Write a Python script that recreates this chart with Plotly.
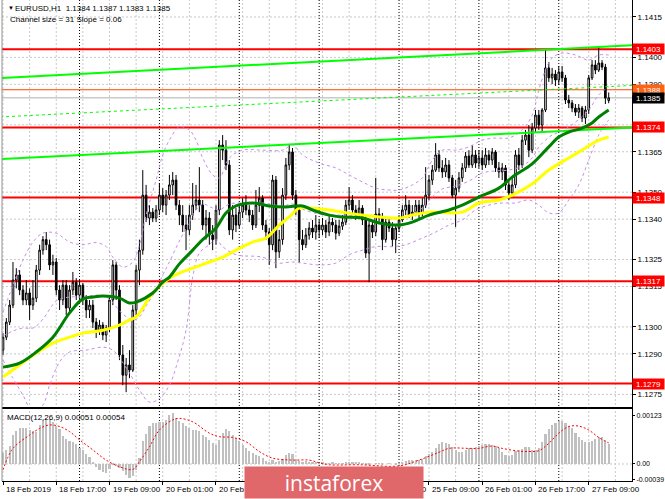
import plotly.graph_objects as go

# EURUSD H1, 18 Feb 01:00 .. 27 Feb 15:00 (bar index = hour counted from the first bar)
opens = [
    1.12914, 1.12962, 1.13018, 1.13081, 1.13174, 1.13193, 1.13137, 1.13100, 1.13126, 1.13081,
    1.13107, 1.13211, 1.13285, 1.13324, 1.13305, 1.13230, 1.13241, 1.13137, 1.13100, 1.13155,
    1.13070, 1.13137, 1.13166, 1.13118, 1.13155, 1.13100, 1.13063, 1.13081, 1.13018, 1.12988,
    1.13007, 1.12970, 1.12996, 1.13100, 1.13230, 1.13137, 1.12896, 1.12821, 1.12859, 1.12840,
    1.13063, 1.13211, 1.13285, 1.13489, 1.13404, 1.13426, 1.13404, 1.13434, 1.13489, 1.13452,
    1.13489, 1.13527, 1.13545, 1.13452, 1.13415, 1.13378, 1.13360, 1.13415, 1.13452, 1.13471,
    1.13452, 1.13378, 1.13404, 1.13341, 1.13324, 1.13434, 1.13675, 1.13656, 1.13601, 1.13360,
    1.13415, 1.13378, 1.13426, 1.13452, 1.13434, 1.13415, 1.13378, 1.13452, 1.13478, 1.13378,
    1.13352, 1.13305, 1.13545, 1.13279, 1.13324, 1.13489, 1.13601, 1.13649, 1.13489, 1.13434,
    1.13324, 1.13305, 1.13341, 1.13367, 1.13352, 1.13378, 1.13360, 1.13378, 1.13352, 1.13389,
    1.13378, 1.13348, 1.13374, 1.13389, 1.13452, 1.13471, 1.13434, 1.13415, 1.13441, 1.13397,
    1.13274, 1.13378, 1.13352, 1.13419, 1.13404, 1.13324, 1.13389, 1.13367, 1.13324, 1.13367,
    1.13397, 1.13434, 1.13452, 1.13415, 1.13426, 1.13452, 1.13423, 1.13452, 1.13489, 1.13545,
    1.13582, 1.13638, 1.13590, 1.13575, 1.13601, 1.13553, 1.13489, 1.13515, 1.13553, 1.13590,
    1.13634, 1.13601, 1.13638, 1.13608, 1.13627, 1.13601, 1.13638, 1.13619, 1.13649, 1.13590,
    1.13575, 1.13590, 1.13527, 1.13497, 1.13527, 1.13638, 1.13601, 1.13693, 1.13712, 1.13656,
    1.13738, 1.13786, 1.13749, 1.13805, 1.13961, 1.13924, 1.13938, 1.13916, 1.13946, 1.13924,
    1.13842, 1.13831, 1.13812, 1.13797, 1.13812, 1.13775, 1.13805, 1.13924, 1.13972, 1.13953,
    1.13979, 1.13964, 1.13840,
]
highs = [
    1.12977, 1.13033, 1.13100, 1.13241, 1.13218, 1.13211, 1.13155, 1.13174, 1.13143, 1.13174,
    1.13230, 1.13305, 1.13337, 1.13352, 1.13324, 1.13268, 1.13256, 1.13155, 1.13174, 1.13174,
    1.13155, 1.13204, 1.13181, 1.13174, 1.13163, 1.13118, 1.13100, 1.13100, 1.13033, 1.13026,
    1.13018, 1.13007, 1.13118, 1.13248, 1.13241, 1.13155, 1.12933, 1.12885, 1.12914, 1.13081,
    1.13230, 1.13324, 1.13582, 1.13527, 1.13452, 1.13441, 1.13452, 1.13534, 1.13515, 1.13508,
    1.13564, 1.13575, 1.13564, 1.13471, 1.13452, 1.13415, 1.13452, 1.13534, 1.13527, 1.13593,
    1.13471, 1.13434, 1.13426, 1.13378, 1.13452, 1.13693, 1.13712, 1.13693, 1.13619, 1.13452,
    1.13441, 1.13452, 1.13478, 1.13489, 1.13452, 1.13434, 1.13508, 1.13519, 1.13489, 1.13397,
    1.13367, 1.13564, 1.13560, 1.13360, 1.13515, 1.13627, 1.13675, 1.13664, 1.13508, 1.13452,
    1.13360, 1.13367, 1.13389, 1.13397, 1.13415, 1.13397, 1.13404, 1.13397, 1.13415, 1.13404,
    1.13397, 1.13397, 1.13415, 1.13471, 1.13519, 1.13489, 1.13452, 1.13471, 1.13452, 1.13415,
    1.13397, 1.13397, 1.13553, 1.13441, 1.13423, 1.13404, 1.13404, 1.13389, 1.13378, 1.13415,
    1.13452, 1.13489, 1.13471, 1.13452, 1.13471, 1.13471, 1.13478, 1.13593, 1.13564, 1.13601,
    1.13682, 1.13656, 1.13619, 1.13627, 1.13619, 1.13564, 1.13545, 1.13575, 1.13608, 1.13649,
    1.13656, 1.13675, 1.13656, 1.13656, 1.13656, 1.13664, 1.13656, 1.13664, 1.13656, 1.13612,
    1.13608, 1.13601, 1.13545, 1.13553, 1.13656, 1.13664, 1.13712, 1.13731, 1.13749, 1.13757,
    1.13805, 1.13805, 1.13812, 1.14031, 1.13983, 1.13961, 1.13953, 1.13968, 1.13968, 1.13935,
    1.13861, 1.13842, 1.13827, 1.13827, 1.13820, 1.13820, 1.13935, 1.13990, 1.13990, 1.14042,
    1.13990, 1.13976, 1.13870,
]
lows = [
    1.12896, 1.12951, 1.13007, 1.13070, 1.13143, 1.13118, 1.13081, 1.13081, 1.13026, 1.13063,
    1.13092, 1.13193, 1.13268, 1.13285, 1.13211, 1.13193, 1.13118, 1.13063, 1.13081, 1.13044,
    1.13055, 1.13118, 1.13100, 1.13100, 1.13081, 1.13033, 1.13033, 1.12996, 1.12959, 1.12970,
    1.12951, 1.12944, 1.12981, 1.13081, 1.13100, 1.12877, 1.12784, 1.12758, 1.12810, 1.12833,
    1.13044, 1.13155, 1.13268, 1.13389, 1.13378, 1.13389, 1.13389, 1.13415, 1.13426, 1.13415,
    1.13471, 1.13489, 1.13434, 1.13378, 1.13352, 1.13285, 1.13341, 1.13397, 1.13434, 1.13426,
    1.13360, 1.13324, 1.13305, 1.13285, 1.13305, 1.13415, 1.13619, 1.13582, 1.13341, 1.13324,
    1.13352, 1.13367, 1.13404, 1.13415, 1.13389, 1.13360, 1.13367, 1.13426, 1.13360, 1.13324,
    1.13230, 1.13285, 1.13218, 1.13256, 1.13305, 1.13471, 1.13582, 1.13471, 1.13415, 1.13237,
    1.13285, 1.13293, 1.13324, 1.13330, 1.13324, 1.13330, 1.13341, 1.13330, 1.13337, 1.13352,
    1.13324, 1.13337, 1.13360, 1.13378, 1.13434, 1.13423, 1.13397, 1.13404, 1.13378, 1.13256,
    1.13166, 1.13330, 1.13337, 1.13389, 1.13285, 1.13313, 1.13352, 1.13298, 1.13274, 1.13352,
    1.13389, 1.13415, 1.13404, 1.13397, 1.13411, 1.13404, 1.13411, 1.13441, 1.13471, 1.13527,
    1.13575, 1.13575, 1.13553, 1.13556, 1.13538, 1.13478, 1.13371, 1.13501, 1.13538, 1.13575,
    1.13590, 1.13590, 1.13590, 1.13590, 1.13582, 1.13590, 1.13601, 1.13601, 1.13575, 1.13553,
    1.13545, 1.13508, 1.13471, 1.13486, 1.13515, 1.13582, 1.13590, 1.13675, 1.13630, 1.13645,
    1.13723, 1.13731, 1.13720, 1.13797, 1.13909, 1.13901, 1.13894, 1.13898, 1.13909, 1.13827,
    1.13812, 1.13797, 1.13783, 1.13775, 1.13760, 1.13753, 1.13790, 1.13916, 1.13938, 1.13946,
    1.13953, 1.13827, 1.13830,
]
closes = [
    1.12962, 1.13018, 1.13081, 1.13174, 1.13193, 1.13137, 1.13100, 1.13126, 1.13081, 1.13107,
    1.13211, 1.13285, 1.13324, 1.13305, 1.13230, 1.13241, 1.13137, 1.13100, 1.13155, 1.13070,
    1.13137, 1.13166, 1.13118, 1.13155, 1.13100, 1.13063, 1.13081, 1.13018, 1.12988, 1.13007,
    1.12970, 1.12996, 1.13100, 1.13230, 1.13137, 1.12896, 1.12821, 1.12859, 1.12840, 1.13063,
    1.13211, 1.13285, 1.13489, 1.13404, 1.13426, 1.13404, 1.13434, 1.13489, 1.13452, 1.13489,
    1.13527, 1.13545, 1.13452, 1.13415, 1.13378, 1.13360, 1.13415, 1.13452, 1.13471, 1.13452,
    1.13378, 1.13404, 1.13341, 1.13324, 1.13434, 1.13675, 1.13656, 1.13601, 1.13360, 1.13415,
    1.13378, 1.13426, 1.13452, 1.13434, 1.13415, 1.13378, 1.13452, 1.13478, 1.13378, 1.13352,
    1.13305, 1.13545, 1.13279, 1.13324, 1.13489, 1.13601, 1.13649, 1.13489, 1.13434, 1.13324,
    1.13305, 1.13341, 1.13367, 1.13352, 1.13378, 1.13360, 1.13378, 1.13352, 1.13389, 1.13378,
    1.13348, 1.13374, 1.13389, 1.13452, 1.13471, 1.13434, 1.13415, 1.13441, 1.13397, 1.13274,
    1.13378, 1.13352, 1.13419, 1.13404, 1.13324, 1.13389, 1.13367, 1.13324, 1.13367, 1.13397,
    1.13434, 1.13452, 1.13415, 1.13426, 1.13452, 1.13423, 1.13452, 1.13489, 1.13545, 1.13582,
    1.13638, 1.13590, 1.13575, 1.13601, 1.13553, 1.13489, 1.13515, 1.13553, 1.13590, 1.13634,
    1.13601, 1.13638, 1.13608, 1.13627, 1.13601, 1.13638, 1.13619, 1.13649, 1.13590, 1.13575,
    1.13590, 1.13527, 1.13497, 1.13527, 1.13638, 1.13601, 1.13693, 1.13712, 1.13656, 1.13738,
    1.13786, 1.13749, 1.13805, 1.13961, 1.13924, 1.13938, 1.13916, 1.13946, 1.13924, 1.13842,
    1.13831, 1.13812, 1.13797, 1.13812, 1.13775, 1.13805, 1.13924, 1.13972, 1.13953, 1.13979,
    1.13964, 1.13849, 1.13850,
]
bars = list(range(len(closes)))

# moving averages at sample bars
ma_green_bars = [0, 5, 10, 15, 20, 24, 27, 30, 35, 38, 40, 45, 48, 50, 53, 57, 60, 64, 67, 70,
                 75, 80, 85, 90, 93, 98, 102, 108, 113, 119, 123, 128, 134, 138, 143, 149, 153,
                 159, 164, 167, 170, 174, 177, 179, 182]
ma_green = [1.12851, 1.12866, 1.12907, 1.12962, 1.13052, 1.13104, 1.13111, 1.13115, 1.13107,
            1.13089, 1.13092, 1.13126, 1.13166, 1.13185, 1.13234, 1.13285, 1.13324, 1.13367,
            1.13423, 1.13449, 1.13460, 1.13449, 1.13445, 1.13449, 1.13434, 1.13415, 1.13408,
            1.13404, 1.13386, 1.13378, 1.13389, 1.13415, 1.13434, 1.13452, 1.13482, 1.13515,
            1.13556, 1.13605, 1.13668, 1.13705, 1.13723, 1.13738, 1.13757, 1.13779, 1.13805]
ma_yellow_bars = [0, 5, 10, 15, 20, 24, 30, 35, 38, 40, 45, 50, 53, 57, 62, 66, 70, 75, 79, 83,
                  86, 89, 92, 98, 102, 108, 119, 123, 128, 138, 143, 149, 153, 159, 164, 170,
                  174, 179, 182]
ma_yellow = [1.12814, 1.12859, 1.12903, 1.12940, 1.12962, 1.12977, 1.12988, 1.13007, 1.13026,
             1.13037, 1.13126, 1.13181, 1.13200, 1.13218, 1.13241, 1.13259, 1.13285, 1.13315,
             1.13330, 1.13378, 1.13408, 1.13441, 1.13441, 1.13434, 1.13426, 1.13415, 1.13404,
             1.13415, 1.13426, 1.13426, 1.13460, 1.13471, 1.13489, 1.13530, 1.13582, 1.13627,
             1.13656, 1.13693, 1.13705]

# Bollinger bands
bb_upper_bars = [0, 3, 6, 9, 12, 16, 20, 24, 28, 31, 33, 36, 39, 41, 43, 46, 48, 50, 53, 56, 58,
                 60, 63, 65, 68, 72, 78, 84, 87, 90, 95, 100, 104, 108, 112, 116, 119, 123, 126,
                 129, 132, 136, 140, 144, 148, 152, 156, 159, 161, 163, 165, 168, 172, 176, 179, 182]
bb_upper = [1.13055, 1.13155, 1.13248, 1.13315, 1.13348, 1.13348, 1.13315, 1.13305, 1.13313,
            1.13298, 1.13259, 1.13222, 1.13241, 1.13305, 1.13415, 1.13545, 1.13638, 1.13693,
            1.13742, 1.13731, 1.13693, 1.13627, 1.13564, 1.13553, 1.13627, 1.13656, 1.13656,
            1.13656, 1.13675, 1.13638, 1.13608, 1.13590, 1.13564, 1.13538, 1.13515, 1.13508,
            1.13508, 1.13527, 1.13553, 1.13619, 1.13656, 1.13656, 1.13668, 1.13693, 1.13701,
            1.13701, 1.13731, 1.13786, 1.13879, 1.13953, 1.13998, 1.14016, 1.14009, 1.13990,
            1.14009, 1.14009]
bb_middle_bars = [0, 3, 6, 9, 12, 16, 20, 24, 28, 31, 33, 36, 39, 41, 43, 46, 48, 50, 53, 56, 58,
                  60, 63, 65, 68, 72, 78, 84, 87, 90, 95, 100, 104, 108, 112, 116, 119, 123, 126,
                  129, 132, 136, 140, 144, 148, 152, 156, 159, 161, 163, 165, 168, 172, 176, 179, 182]
bb_middle = [1.12966, 1.12985, 1.12996, 1.12996, 1.13029, 1.13096, 1.13111, 1.13111, 1.13118,
             1.13111, 1.13089, 1.13048, 1.13026, 1.13037, 1.13078, 1.13137, 1.13193, 1.13241,
             1.13319, 1.13389, 1.13434, 1.13456, 1.13441, 1.13434, 1.13456, 1.13460, 1.13460,
             1.13449, 1.13456, 1.13437, 1.13419, 1.13415, 1.13415, 1.13411, 1.13408, 1.13404,
             1.13404, 1.13419, 1.13441, 1.13482, 1.13512, 1.13523, 1.13541, 1.13571, 1.13579,
             1.13582, 1.13597, 1.13627, 1.13668, 1.13693, 1.13712, 1.13727, 1.13760, 1.13805,
             1.13861, 1.13890]
bb_lower_bars = [0, 3, 6, 9, 12, 14, 17, 20, 25, 30, 33, 35, 38, 41, 44, 47, 50, 52, 55, 57, 59,
                 62, 64, 66, 70, 78, 82, 87, 90, 95, 100, 104, 108, 112, 117, 121, 126, 130, 134,
                 138, 142, 146, 150, 154, 158, 161, 164, 167, 170, 173, 176, 179, 182]
bb_lower = [1.12877, 1.12810, 1.12747, 1.12684, 1.12710, 1.12784, 1.12870, 1.12907, 1.12914,
            1.12925, 1.12914, 1.12885, 1.12829, 1.12766, 1.12721, 1.12734, 1.12784, 1.12851,
            1.12988, 1.13185, 1.13274, 1.13305, 1.13324, 1.13298, 1.13268, 1.13259, 1.13237,
            1.13241, 1.13237, 1.13230, 1.13237, 1.13268, 1.13285, 1.13298, 1.13298, 1.13305,
            1.13330, 1.13352, 1.13378, 1.13397, 1.13434, 1.13452, 1.13460, 1.13460, 1.13471,
            1.13452, 1.13423, 1.13423, 1.13471, 1.13527, 1.13619, 1.13712, 1.13768]

# regression channel (two end points each)
channel_bars = [-0.9, 189.0]
channel_upper = [1.13923, 1.14045]
channel_mid = [1.13779, 1.13896]
channel_lower = [1.13623, 1.13740]

# levels
red_levels = [1.1403, 1.1374, 1.1348, 1.1317, 1.1279]
ask_level = 1.1388
bid_level = 1.1385
price_ticks = [1.1415, 1.1400, 1.1390, 1.1375, 1.1365, 1.1350, 1.1340, 1.1325, 1.1315,
               1.1300, 1.1290, 1.1275]

# MACD(12,26,9)
macd_main = [
    0.00027, 0.00035, 0.00045, 0.00074, 0.00085, 0.00091, 0.00092, 0.00091, 0.00087, 0.00084,
    0.00083, 0.00100, 0.00112, 0.00117, 0.00116, 0.00108, 0.00097, 0.00090, 0.00072, 0.00064,
    0.00058, 0.00057, 0.00052, 0.00042, 0.00036, 0.00026, 0.00018, 0.00006, -0.00008, -0.00015,
    -0.00020, -0.00024, -0.00012, -0.00003, -0.00006, -0.00010, -0.00018, -0.00028, -0.00037, -0.00030,
    -0.00015, 0.00015, 0.00058, 0.00078, 0.00098, 0.00104, 0.00105, 0.00107, 0.00108, 0.00112,
    0.00126, 0.00130, 0.00118, 0.00110, 0.00104, 0.00098, 0.00092, 0.00088, 0.00087, 0.00085,
    0.00074, 0.00070, 0.00062, 0.00055, 0.00049, 0.00062, 0.00080, 0.00090, 0.00085, 0.00074,
    0.00066, 0.00058, 0.00049, 0.00040, 0.00033, 0.00027, 0.00022, 0.00020, 0.00016, 0.00008,
    0.00006, 0.00010, 0.00006, 0.00008, 0.00012, 0.00023, 0.00027, 0.00025, 0.00014, 0.00008,
    0.00006, 0.00008, 0.00005, 0.00004, 0.00003, 0.00002, 0.00003, 0.00002, 0.00002, 0.00003,
    0.00002, 0.00001, 0.00002, 0.00004, 0.00006, 0.00006, 0.00005, 0.00003, 0.00001, -0.00002,
    -0.00001, 0.00000, 0.00002, 0.00001, -0.00001, 0.00000, 0.00001, 0.00000, -0.00001, 0.00002,
    0.00004, 0.00008, 0.00010, 0.00011, 0.00010, 0.00009, 0.00012, 0.00020, 0.00026, 0.00030,
    0.00042, 0.00050, 0.00057, 0.00055, 0.00050, 0.00044, 0.00036, 0.00030, 0.00032, 0.00036,
    0.00040, 0.00042, 0.00044, 0.00046, 0.00048, 0.00050, 0.00051, 0.00049, 0.00047, 0.00042,
    0.00030, 0.00022, 0.00020, 0.00024, 0.00033, 0.00035, 0.00038, 0.00044, 0.00043, 0.00036,
    0.00035, 0.00040, 0.00057, 0.00078, 0.00090, 0.00100, 0.00106, 0.00110, 0.00109, 0.00104,
    0.00098, 0.00092, 0.00080, 0.00070, 0.00062, 0.00057, 0.00056, 0.00060, 0.00064, 0.00068,
    0.00070, 0.00062, 0.00051,
]
signal_bars = [0, 3, 8, 11, 14, 17, 20, 23, 27, 31, 35, 39, 41, 44, 47, 51, 53, 57, 62, 65, 69,
               73, 77, 81, 87, 92, 95, 98, 107, 119, 125, 131, 134, 140, 143, 147, 150, 155, 158,
               161, 164, 167, 170, 173, 176, 179, 182]
macd_signal = [-0.00015, 0.00040, 0.00074, 0.00091, 0.00100, 0.00096, 0.00083, 0.00062, 0.00036,
               0.00010, -0.00007, -0.00014, 0.00006, 0.00044, 0.00087, 0.00113, 0.00117, 0.00108,
               0.00079, 0.00070, 0.00068, 0.00057, 0.00032, 0.00015, 0.00010, 0.00010, 0.00003,
               -0.00002, -0.00002, -0.00005, 0.00010, 0.00030, 0.00040, 0.00040, 0.00040, 0.00046,
               0.00040, 0.00033, 0.00032, 0.00034, 0.00053, 0.00079, 0.00096, 0.00097, 0.00087,
               0.00068, 0.00054]

# time axis
label_bars = [0, 16, 32, 48, 64, 80, 96, 112, 128, 144, 160, 176]
label_text = ["18 Feb 2019", "18 Feb 17:00", "19 Feb 09:00", "20 Feb 01:00", "20 Feb 17:00",
              "21 Feb 09:00", "22 Feb 01:00", "22 Feb 17:00", "25 Feb 09:00", "26 Feb 01:00",
              "26 Feb 17:00", "27 Feb 09:00"]
day_start_bars = [23, 47, 71, 95, 119, 143, 167]

W, H = 665, 499
X0, X1 = 2 / W, 632 / W
MAIN_DOM = [1 - 407 / H, 1.0]
MACD_DOM = [1 - 481 / H, 1 - 409 / H]
FONT = "Liberation Sans, Arial, sans-serif"
BAND = "#c58fe8"
GRID = "#c8c8c8"

fig = go.Figure()

for xs, ys, dash, wd in [(channel_bars, channel_upper, "solid", 2),
                         (channel_bars, channel_lower, "solid", 2),
                         (channel_bars, channel_mid, "3px,3px", 1)]:
    fig.add_trace(go.Scatter(x=xs, y=ys, mode="lines", hoverinfo="skip",
                             line=dict(color="#00ff00", width=wd, dash=dash)))

for xs, ys in [(bb_upper_bars, bb_upper), (bb_middle_bars, bb_middle), (bb_lower_bars, bb_lower)]:
    fig.add_trace(go.Scatter(x=xs, y=ys, mode="lines", hoverinfo="skip",
                             line=dict(color=BAND, width=1, dash="3px,3px", shape="spline")))

fig.add_trace(go.Candlestick(
    x=bars, open=opens, high=highs, low=lows, close=closes, whiskerwidth=0,
    increasing=dict(line=dict(color="black", width=1), fillcolor="white"),
    decreasing=dict(line=dict(color="black", width=1), fillcolor="black"),
))

fig.add_trace(go.Scatter(x=ma_yellow_bars, y=ma_yellow, mode="lines", hoverinfo="skip",
                         line=dict(color="#ffff00", width=3, shape="spline")))
fig.add_trace(go.Scatter(x=ma_green_bars, y=ma_green, mode="lines", hoverinfo="skip",
                         line=dict(color="#008000", width=3, shape="spline")))

fig.add_trace(go.Bar(x=bars, y=macd_main, width=0.65, marker=dict(color="#c0c0c0", line=dict(width=0)),
                     xaxis="x2", yaxis="y2", hoverinfo="skip"))
fig.add_trace(go.Scatter(x=signal_bars, y=macd_signal, mode="lines", xaxis="x2", yaxis="y2",
                         hoverinfo="skip", line=dict(color="#ff0000", width=1, dash="2px,2px",
                                                     shape="spline")))

shapes = []
# grid: every 8 hours and at price ticks, then day separators
for b in range(0, 190, 8):
    shapes.append(dict(type="line", xref="x", yref="paper", x0=b, x1=b, y0=MACD_DOM[0], y1=1,
                       line=dict(color=GRID, width=1, dash="2px,2px"), layer="below"))
for p in price_ticks:
    shapes.append(dict(type="line", xref="x domain", yref="y", x0=0, x1=1, y0=p, y1=p,
                       line=dict(color=GRID, width=1, dash="2px,2px"), layer="below"))
shapes.append(dict(type="line", xref="x2 domain", yref="y2", x0=0, x1=1, y0=0, y1=0,
                   line=dict(color=GRID, width=1, dash="2px,2px"), layer="below"))
for b in day_start_bars:
    shapes.append(dict(type="line", xref="x", yref="paper", x0=b, x1=b, y0=MACD_DOM[0], y1=1,
                       line=dict(color="black", width=1, dash="1px,2px"), layer="below"))
for lv in red_levels:
    shapes.append(dict(type="line", xref="x domain", yref="y", x0=0, x1=1, y0=lv, y1=lv,
                       line=dict(color="#ff0000", width=2), layer="below"))
shapes.append(dict(type="line", xref="x domain", yref="y", x0=0, x1=1, y0=ask_level, y1=ask_level,
                   line=dict(color="#ff4500", width=1), layer="below"))
shapes.append(dict(type="line", xref="x domain", yref="y", x0=0, x1=1, y0=bid_level, y1=bid_level,
                   line=dict(color="#b0b0b0", width=1), layer="below"))
# left border
shapes.append(dict(type="line", xref="paper", yref="paper", x0=X0, x1=X0, y0=MACD_DOM[0], y1=1,
                   line=dict(color="#909090", width=1)))

annotations = []
box_w = 31
for lv in red_levels:
    annotations.append(dict(xref="paper", yref="y", x=X1, y=lv, xanchor="left", yanchor="middle",
                            text=f"{lv:.4f}", showarrow=False, bgcolor="#ff0000", width=box_w,
                            height=10, borderpad=0, font=dict(family=FONT, size=8, color="white")))
annotations.append(dict(xref="paper", yref="y", x=X1, y=ask_level, xanchor="left", yanchor="middle",
                        text=f"{ask_level:.4f}", showarrow=False, bgcolor="#ff6414", width=box_w,
                        height=10, borderpad=0, font=dict(family=FONT, size=8, color="white")))
annotations.append(dict(xref="paper", yref="y", x=X1, y=bid_level, xanchor="left", yanchor="middle",
                        text=f"{bid_level:.4f}", showarrow=False, bgcolor="black", width=box_w,
                        height=10, borderpad=0, font=dict(family=FONT, size=8, color="white")))
for b, t in zip(label_bars, label_text):
    annotations.append(dict(xref="x2", yref="paper", x=b, y=1 - 489 / H, xanchor="left",
                            yanchor="middle", xshift=1, text=t, showarrow=False,
                            font=dict(family=FONT, size=8, color="black")))
annotations += [
    dict(xref="paper", yref="paper", x=6 / W, y=1 - 8 / H, xanchor="left", yanchor="middle",
         text="▼", showarrow=False, font=dict(family=FONT, size=6, color="black")),
    dict(xref="paper", yref="paper", x=13 / W, y=1 - 8 / H, xanchor="left", yanchor="middle",
         text="EURUSD,H1  1.1384 1.1387 1.1383 1.1385", showarrow=False,
         font=dict(family=FONT, size=8, color="black")),
    dict(xref="paper", yref="paper", x=8 / W, y=1 - 19 / H, xanchor="left", yanchor="middle",
         text="Channel size = 31 Slope = 0.06", showarrow=False,
         font=dict(family=FONT, size=8, color="black")),
    dict(xref="paper", yref="paper", x=5 / W, y=1 - 417 / H, xanchor="left", yanchor="middle",
         text="MACD(12,26,9) 0.00051 0.00054", showarrow=False,
         font=dict(family=FONT, size=8, color="black")),
    # instaforex badge, drawn last so it covers the labels under it
    dict(xref="paper", yref="paper", x=244 / W, y=0, xanchor="left", yanchor="bottom",
         text="instaforex", showarrow=False, bgcolor="#e0676a", width=178, height=31,
         borderpad=0, align="center", valign="middle",
         font=dict(family="Open Sans, sans-serif", size=21, color="white")),
]

x_range = [-0.3, 189.0]
fig.update_layout(
    width=W, height=H, margin=dict(l=0, r=0, t=0, b=0, autoexpand=False),
    paper_bgcolor="white", plot_bgcolor="white", showlegend=False,
    font=dict(family=FONT, size=8, color="black"),
    shapes=shapes, annotations=annotations,
    xaxis=dict(domain=[X0, X1], range=x_range, anchor="y", showgrid=False, zeroline=False,
               showticklabels=False, ticks="", rangeslider=dict(visible=False),
               showline=True, linecolor="black", linewidth=2),
    yaxis=dict(domain=MAIN_DOM, range=[1.12703, 1.14213], side="right", anchor="x",
               tickvals=price_ticks, ticktext=[f"{v:.4f}" for v in price_ticks],
               showgrid=False, zeroline=False, ticks="outside", ticklen=3, tickcolor="black",
               showline=True, linecolor="black", linewidth=1,
               tickfont=dict(family=FONT, size=8, color="black")),
    xaxis2=dict(domain=[X0, X1], range=x_range, anchor="y2", showgrid=False, zeroline=False,
                tickvals=label_bars, ticks="outside", ticklen=3, tickcolor="black",
                showticklabels=False, showline=True, linecolor="black", linewidth=1, mirror=True),
    yaxis2=dict(domain=MACD_DOM, range=[-0.000436, 0.001409], side="right", anchor="x2",
                tickvals=[0.00123, 0.0, -0.00039], ticktext=["0.00123", "0.00", "-0.00039"],
                showgrid=False, zeroline=False, ticks="outside", ticklen=2, tickcolor="black",
                showline=True, linecolor="black", linewidth=1,
                tickfont=dict(family=FONT, size=7, color="black")),
    bargap=0,
)

# the page body has a default 8px margin; drop it so the chart sits at the window's corner
fig.write_html("out.html", config={"displayModeBar": False},
               post_script="document.body.style.margin='0';")
